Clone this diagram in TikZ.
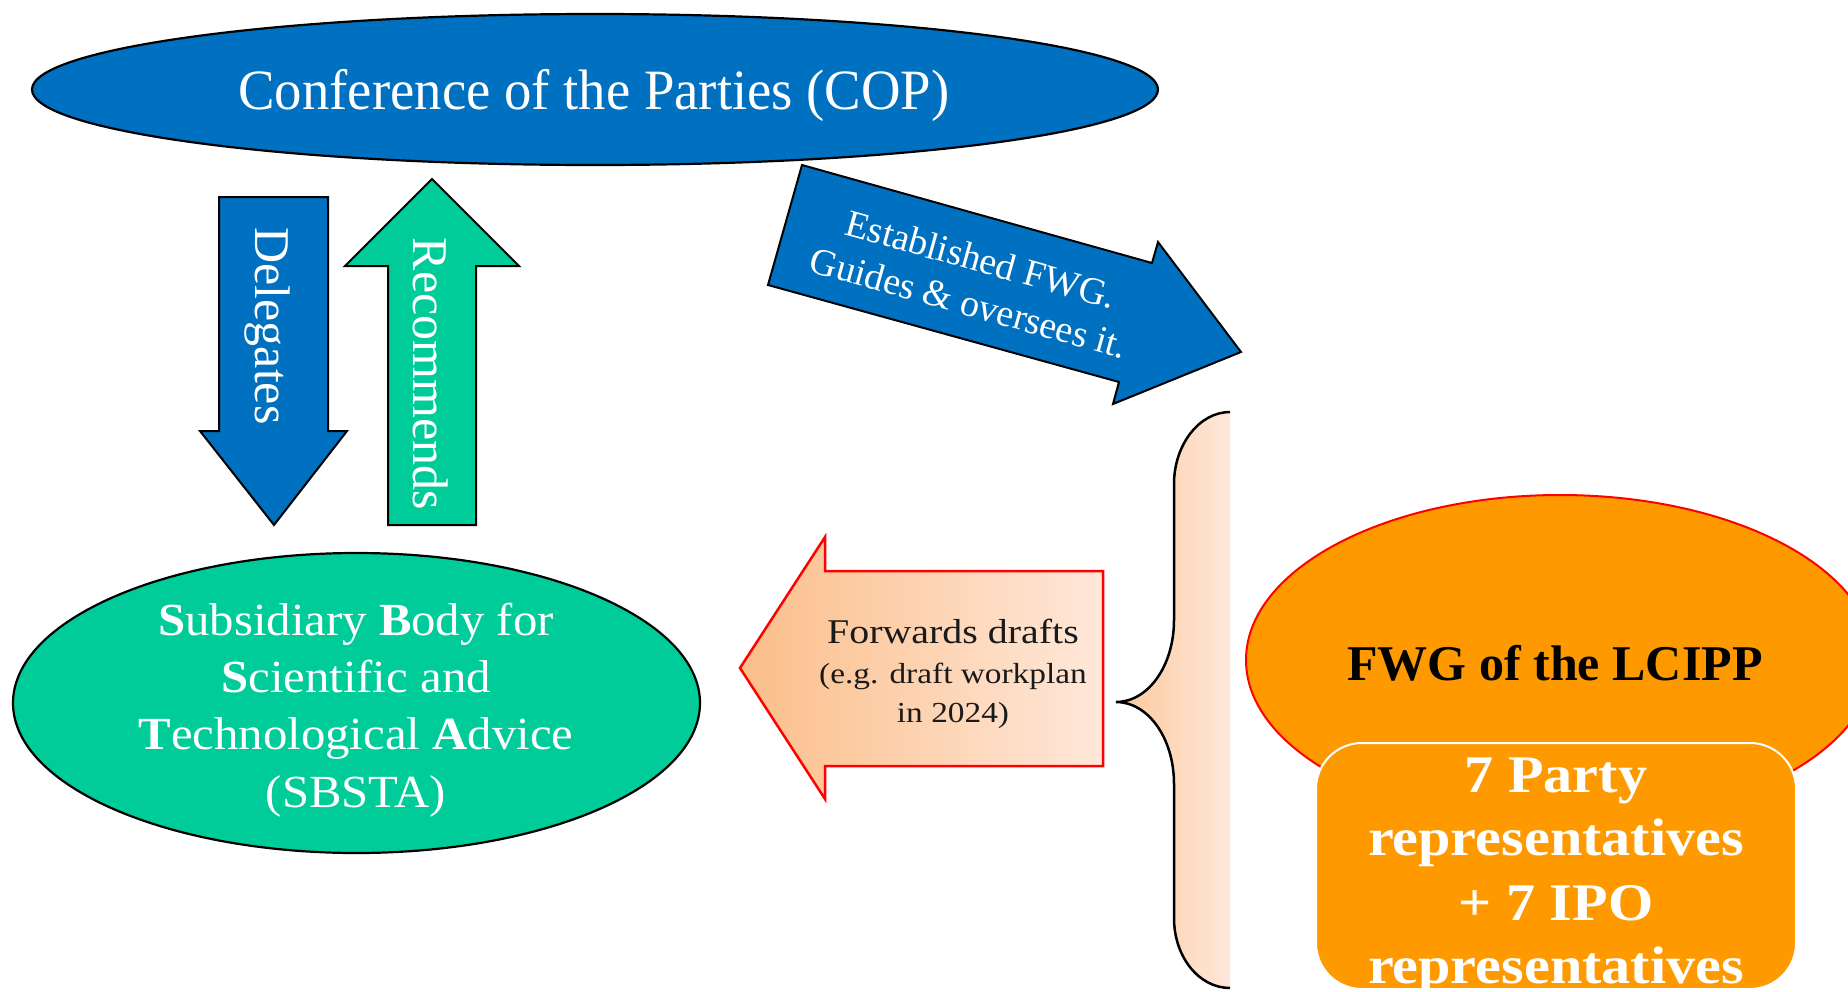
\documentclass[tikz,border=0pt]{standalone}
\usepackage{fontspec}
\setmainfont{Liberation Serif}
\newfontfamily\copfont[FakeStretch=0.96]{Liberation Serif}
\newfontfamily\sbfont[FakeStretch=1.06]{Liberation Serif}
\newfontfamily\widefont[FakeStretch=1.15]{Liberation Serif}
\newfontfamily\repfont[FakeStretch=1.1]{Liberation Serif}
\usetikzlibrary{shapes.geometric}
\definecolor{copblue}{HTML}{0070C0}
\definecolor{sbgreen}{HTML}{00CC99}
\definecolor{fwgorange}{HTML}{FF9900}
\definecolor{peachL}{RGB}{251,190,137}
\definecolor{peachR}{RGB}{255,232,218}
\definecolor{darktext}{HTML}{1A1A1A}
\tikzset{
  lbl/.style={inner sep=0pt, anchor=base, text=white},
  oval/.style={ellipse, inner sep=0pt, line width=2.2pt},
  blockarrow/.style={draw=black, line width=2pt, line join=miter},
}
\begin{document}
\begin{tikzpicture}[x=1pt,y=-1pt]
\useasboundingbox (0,0) rectangle (1848,991);
\clip (0,0) rectangle (1848,991);

% COP
\node[oval, draw=black, fill=copblue, minimum width=1126pt, minimum height=151pt] (cop) at (595,89.5) {};
\node[lbl, font=\copfont\fontsize{57}{68}\selectfont] (coptxt) at (594,109) {Conference of the Parties (COP)};

% Delegates arrow
\draw[blockarrow, fill=copblue] (219,197) -- (328,197) -- (328,431) -- (347,431) -- (274,525) -- (200,431) -- (219,431) -- cycle;
\node[lbl, rotate=-90, font=\fontsize{50}{60}\selectfont] (deltxt) at (255,326) {Delegates};

% Recommends arrow
\draw[blockarrow, fill=sbgreen] (388,525) -- (476,525) -- (476,266) -- (519,266) -- (432,179) -- (345,266) -- (388,266) -- cycle;
\node[lbl, rotate=-90, font=\fontsize{50}{60}\selectfont] (rectxt) at (413,374) {Recommends};

% Established arrow
\draw[blockarrow, fill=copblue] (802,165) -- (1152,263) -- (1158,242) -- (1241,352) -- (1113,404) -- (1119,382) -- (768,285) -- cycle;
\node[rotate=-15.6, align=center, text=white, inner sep=0pt, font=\fontsize{38}{45}\selectfont] (esttxt) at (975,281) {Established FWG.\\Guides \& oversees it.};

% SBSTA
\node[oval, draw=black, fill=sbgreen, minimum width=687pt, minimum height=300pt] (sbsta) at (356.5,703) {};
\node[lbl, font=\sbfont\fontsize{46}{57}\selectfont] (sb1) at (356,635) {\textbf{S}ubsidiary \textbf{B}ody for};
\node[lbl, font=\sbfont\fontsize{46}{57}\selectfont] (sb2) at (356,692) {\textbf{S}cientific and};
\node[lbl, font=\sbfont\fontsize{46}{57}\selectfont] (sb3) at (356,749) {\textbf{T}echnological \textbf{A}dvice};
\node[lbl, font=\sbfont\fontsize{46}{57}\selectfont] (sb4) at (356,807) {(SBSTA)};

% Forwards arrow
\draw[draw=red, line width=2.5pt, left color=peachL, right color=peachR] (1103,571) -- (825,571) -- (825,537) -- (740,668) -- (825,799) -- (825,766) -- (1103,766) -- cycle;
\node[lbl, text=darktext, font=\widefont\fontsize{34.7}{40}\selectfont] (fw1) at (953,643) {Forwards drafts};
\node[lbl, text=darktext, font=\widefont\fontsize{29}{39}\selectfont] (fw2) at (953,683) {(e.g. draft workplan};
\node[lbl, text=darktext, font=\widefont\fontsize{29}{39}\selectfont] (fw3) at (953,722) {in 2024)};

% Brace
\shade[left color=peachL!85!white, right color=peachR] (1230,412) .. controls (1199,412) and (1174,445) .. (1174,484) -- (1174,620) .. controls (1174,666) and (1148,702) .. (1116,702) .. controls (1148,702) and (1174,738) .. (1174,784) -- (1174,918) .. controls (1174,957) and (1199,988) .. (1230,988) -- cycle;
\draw[line width=2.5pt] (1230,412) .. controls (1199,412) and (1174,445) .. (1174,484) -- (1174,620) .. controls (1174,666) and (1148,702) .. (1116,702) .. controls (1148,702) and (1174,738) .. (1174,784) -- (1174,918) .. controls (1174,957) and (1199,988) .. (1230,988);

% FWG
\node[oval, draw=red, line width=2pt, fill=fwgorange, minimum width=628pt, minimum height=330pt] (fwg) at (1560,660) {};
\node[lbl, text=black, font=\bfseries\fontsize{50}{60}\selectfont] (fwgtxt) at (1555,680) {FWG of the LCIPP};

% Members box
\draw[draw=white, line width=2pt, fill=fwgorange, rounded corners=46pt] (1316,743) rectangle (1796,989);
\node[lbl, font=\repfont\bfseries\fontsize{52.9}{64}\selectfont] (m1) at (1556,792) {7 Party};
\node[lbl, font=\repfont\bfseries\fontsize{52.9}{64}\selectfont] (m2) at (1556,855) {representatives};
\node[lbl, font=\repfont\bfseries\fontsize{52.9}{64}\selectfont] (m3) at (1556,920) {+ 7 IPO};
\node[lbl, font=\repfont\bfseries\fontsize{52.9}{64}\selectfont] (m4) at (1556,983) {representatives};
\end{tikzpicture}
\end{document}
